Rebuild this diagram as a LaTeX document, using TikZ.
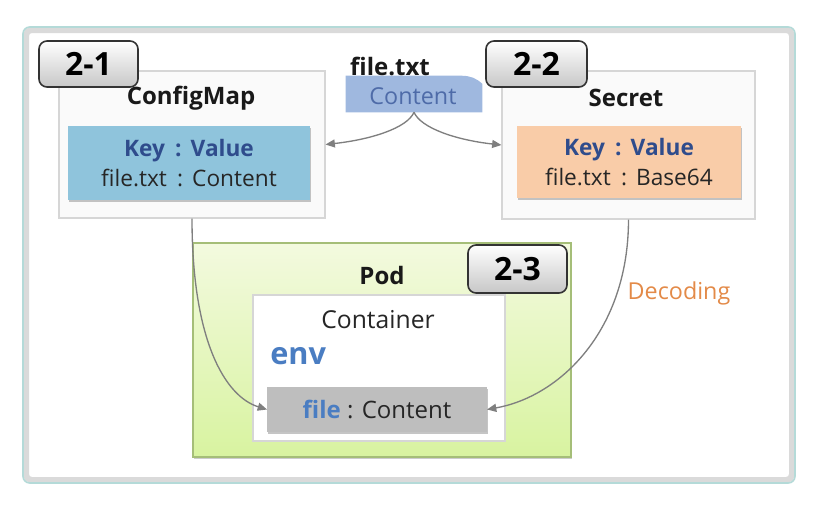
\documentclass[tikz,border=0pt]{standalone}
\usepackage{fontspec}
\setmainfont{Open Sans}
\usetikzlibrary{positioning,shadows,arrows.meta}
\definecolor{framegray}{HTML}{DADADA}
\definecolor{frameteal}{HTML}{B4DAD8}
\definecolor{boxline}{HTML}{D6D6D6}
\definecolor{cmblue}{HTML}{8FC4DC}
\definecolor{secpeach}{HTML}{F9CCA8}
\definecolor{tabblue}{HTML}{9FB8DF}
\definecolor{tabtext}{HTML}{4E6BA8}
\definecolor{keyblue}{HTML}{2F4C8C}
\definecolor{envblue}{HTML}{4A7DC2}
\definecolor{podtop}{HTML}{F3FADF}
\definecolor{podbot}{HTML}{D8F3A0}
\definecolor{podline}{HTML}{A5BE78}
\definecolor{filegray}{HTML}{BEBEBE}
\definecolor{arrowgray}{HTML}{7F7F7F}
\definecolor{decorange}{HTML}{E38A48}
\newcommand{\kvsep}{\hspace{0.45em}:\hspace{0.4em}}

\begin{document}
\begin{tikzpicture}[x=0.75pt, y=-0.75pt, inner sep=0pt,
    box/.style = {draw=boxline, fill=black!2, line width=0.8pt},
    kv/.style = {line width=0pt, align=center, text=black!85,
        font=\fontsize{17}{23}\selectfont,
        drop shadow={shadow xshift=0.8pt, shadow yshift=-1.5pt, fill=black!45, opacity=0.5}},
    badge/.style = {draw=black!80, line width=1.2pt, rounded corners=6pt,
        top color=white, bottom color=black!22, minimum width=74.25pt, minimum height=34.5pt,
        font=\fontsize{24}{24}\bfseries\selectfont},
    title/.style = {font=\fontsize{18}{18}\bfseries\selectfont, text=black!90},
    link/.style = {draw=arrowgray, line width=1pt, -{Triangle[length=7pt, width=6pt]}}]
  \useasboundingbox (0,0) rectangle (822,504);

  % outer frame
  \draw[framegray, line width=4.5pt, rounded corners=4pt] (26,30) rectangle (792,480);
  \draw[frameteal, line width=1.2pt, rounded corners=5pt] (23,27) rectangle (795,483);

  % configmap and secret
  \node[box, minimum width=199.5pt, minimum height=110.25pt] (cm) at (192,144.5) {};
  \node[box, minimum width=189.75pt, minimum height=111pt] (sec) at (628.5,145) {};
  \node[title] (cmtitle) at (191,98) {ConfigMap};
  \node[title] (sectitle) at (626,98) {Secret};
  \node[kv, fill=cmblue, minimum width=181.5pt, minimum height=55.5pt] (cmkv) at (189,163)
      {{\bfseries\color{keyblue}Key\kvsep Value}\\file.txt\kvsep Content};
  \node[kv, fill=secpeach, minimum width=168pt, minimum height=54pt] (seckv) at (629,162)
      {{\bfseries\color{keyblue}Key\kvsep Value}\\file.txt\kvsep Base64};
  \node[badge] (b1) at (88.5,64) {2-1};
  \node[badge, minimum width=75.75pt] (b2) at (536.5,64) {2-2};

  % source file
  \node[minimum width=102pt, minimum height=27pt] (content) at (414,94) {};
  \fill[tabblue] (content.south west) -- (content.north west) -- ([xshift=-15pt]content.north east)
      to[bend left=20] ([yshift=-6pt]content.north east) -- (content.south east) -- cycle;
  \node[text=tabtext, font=\fontsize{17.5}{17.5}\selectfont] (contenttext) at (413,96) {Content};
  \node[title] (filetxt) at (390,66) {file.txt};

  % pod
  \node[draw=podline, line width=0.8pt, top color=podtop, bottom color=podbot,
      minimum width=283.5pt, minimum height=160.5pt,
      drop shadow={shadow xshift=1pt, shadow yshift=-1.5pt, fill=black!40, opacity=0.5}] (pod) at (382,350) {};
  \node[box, fill=white, minimum width=189pt, minimum height=109.5pt] (ctr) at (379,368) {};
  \node[title] (podtitle) at (382,275) {Pod};
  \node[font=\fontsize{18.5}{18.5}\selectfont, text=black!85] (ctrtitle) at (378,320) {Container};
  \node[anchor=west, font=\fontsize{23}{23}\bfseries\selectfont, text=envblue] (env) at (270,356) {env};
  \node[kv, fill=filegray, minimum width=165pt, minimum height=33.75pt, font=\fontsize{18}{18}\selectfont] (file) at (377,409.5)
      {{\bfseries\color{envblue}file} : Content};
  \node[badge, minimum height=36pt] (b3) at (517.5,269) {2-3};

  % connectors
  \draw[link] (content.south) .. controls +(-7,16) and +(45,-5) .. (cm.east);
  \draw[link] (content.south) .. controls +(7,16) and +(-45,-5) .. (sec.west);
  \draw[link] (cm.south) .. controls +(0,122) and +(-42,-13) .. (file.west);
  \draw[link] (sec.south) .. controls +(0,111) and +(73,-13) .. (file.east);
  \node[text=decorange, font=\fontsize{17.5}{17.5}\selectfont] (decode) at (679,293) {Decoding};
\end{tikzpicture}
\end{document}
